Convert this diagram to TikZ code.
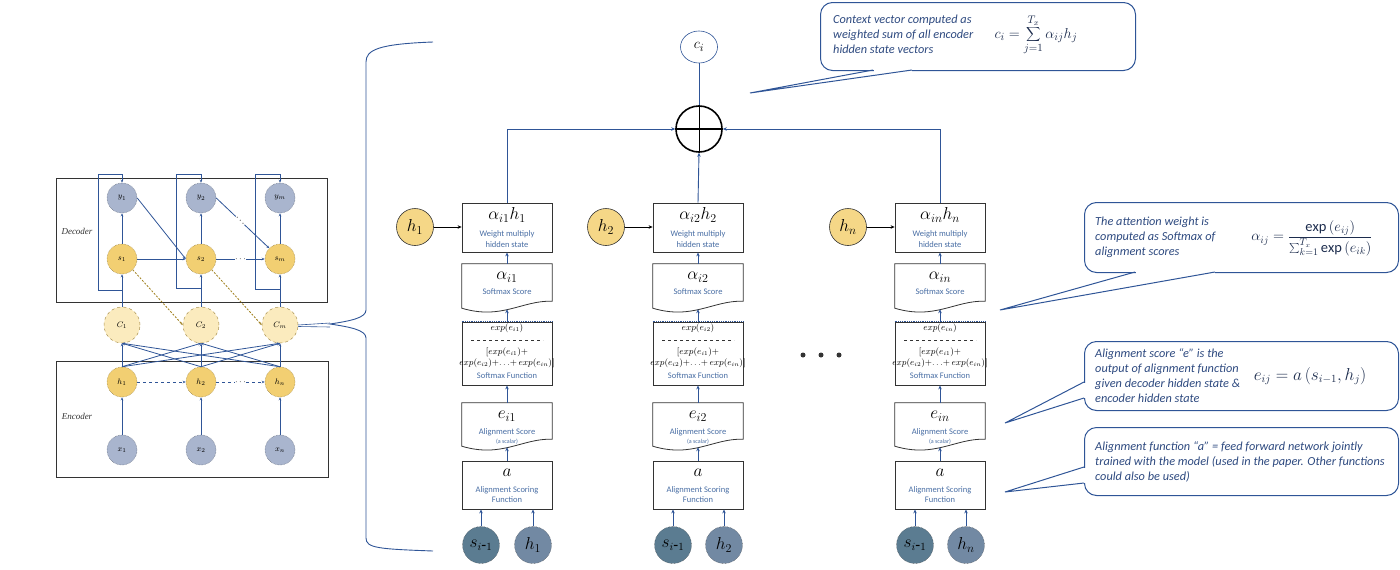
\documentclass[tikz,border=0pt]{standalone}
\usepackage{fontspec}
\setmainfont{Carlito}
\newfontfamily\serifit{Liberation Serif}
\usetikzlibrary{shapes.geometric,arrows.meta,calc}
\definecolor{lineblue}{HTML}{2F5597}
\definecolor{txtblue}{HTML}{4A6FA5}
\definecolor{callblue}{HTML}{2E4A80}
\definecolor{boxgray}{HTML}{333333}
\definecolor{yel}{HTML}{F5D787}
\definecolor{myel}{HTML}{F2CF72}
\definecolor{cyel}{HTML}{FBEBBE}
\definecolor{gblue}{HTML}{A9B5CE}
\definecolor{slate}{HTML}{5B7C91}
\definecolor{hslate}{HTML}{7289A3}
\definecolor{dashy}{HTML}{A0801E}
\newcommand\docshape[1]{\draw[draw=boxgray,fill=white,line width=0.8pt] (#1.north west) -- (#1.north east) -- ($(#1.south east)+(0,-11)$) .. controls ($(#1.south east)+(-30,-12)$) and ($(#1.south west)+(40,8)$) .. ($(#1.south west)+(0,-4)$) -- cycle;}
\begin{document}
\begin{tikzpicture}[x=1pt,y=-1pt,
 bl/.style={draw=lineblue,line width=0.9pt},
 tipa/.style={-{Stealth[length=4pt,width=3.5pt]}},
 plainbox/.style={draw=boxgray,fill=white,line width=0.8pt,minimum width=90pt,inner sep=0pt},
 docframe/.style={minimum width=90pt,inner sep=0pt},
 lab/.style={text=txtblue,font=\fontsize{8.5}{10.5}\selectfont,align=center,inner sep=0pt},
 mth/.style={font=\fontsize{18}{20}\selectfont,inner sep=0pt},
 expt/.style={font=\fontsize{9}{11}\selectfont,align=center,inner sep=0pt},
 ycirc/.style={circle,draw=boxgray,fill=yel,minimum size=37pt,inner sep=0pt,line width=0.6pt,font=\fontsize{17}{18}\selectfont},
 scirc/.style={circle,draw=boxgray,densely dotted,fill=slate,minimum size=37pt,inner sep=0pt,font=\fontsize{16}{17}\selectfont},
 hcirc/.style={circle,draw=boxgray,densely dotted,fill=hslate,minimum size=37pt,inner sep=0pt,font=\fontsize{17}{18}\selectfont},
 callbox/.style={draw=lineblue,line width=1pt,rounded corners=12pt,fill=white,inner sep=0pt},
 calltxt/.style={text=callblue,font=\fontsize{12.3}{15}\selectfont\itshape,align=left,inner sep=0pt,anchor=west},
 callmath/.style={text=callblue!60!black,inner sep=0pt},
 mc/.style={circle,minimum size=30pt,inner sep=0pt,font=\fontsize{8.5}{9}\selectfont,densely dotted,line width=0.5pt},
 mg/.style={mc,fill=gblue,draw=gblue!60!black},
 my/.style={mc,fill=myel,draw=myel!60!black},
 mcc/.style={mc,minimum size=36pt,fill=cyel,draw=myel!70!black,dashed},
 ml/.style={draw=lineblue,line width=0.8pt},
 mt/.style={-{Stealth[length=3pt,width=2.5pt]}},
 md/.style={draw=dashy,line width=0.8pt,dash pattern=on 2pt off 1.5pt},
 mdots/.style={fill=white,inner sep=0.5pt,font=\bfseries\fontsize{9}{9}\selectfont},
]
\useasboundingbox (0,0) rectangle (1400,570);

% ---------------- left encoder-decoder sketch ----------------
\draw[draw=boxgray,line width=0.8pt] (56,178) rectangle (327,302);
\draw[draw=boxgray,line width=0.8pt] (56,361) rectangle (328,477);
\node[font=\serifit\itshape\fontsize{9}{9}\selectfont,text=boxgray] (dec) at (77,231) {Decoder};
\node[font=\serifit\itshape\fontsize{9}{9}\selectfont,text=boxgray] (enc) at (77,416) {Encoder};

\coordinate (La1) at (122,290);
\coordinate (La2) at (201,288);
\coordinate (La3) at (280,289);

\foreach \c/\x/\a/\b in {1/122/1/1,2/201/2/2,3/280/m/n}{
  \node[mg] (Ly\c) at (\x,198) {$y_{\a}$};
  \node[my] (Ls\c) at (\x,259) {$s_{\a}$};
  \node[mcc] (Lc\c) at (\x,325) {$C_{\a}$};
  \node[my] (Lh\c) at (\x,382) {$h_{\b}$};
  \node[mg] (Lx\c) at (\x,450) {$x_{\b}$};
  \draw[ml,mt] (Ls\c) -- (Ly\c);
  \draw[ml,mt] (Lc\c) -- (Ls\c);
  \draw[ml,mt] (Lx\c) -- (Lh\c);
}
\draw[ml,mt] (La1) -| (98,174) -| (Ly1.north);
\draw[ml,mt] (La2) -| (176,174) -| (Ly2.north);
\draw[ml,mt] (La3) -| (255,174) -| (Ly3.north);

\foreach \a in {1,2,3}{\foreach \b in {1,2,3}{\draw[ml,mt] (Lh\a.north) -- (Lc\b.south);}}

\draw[ml,mt] (Ls1) -- (Ls2);
\draw[ml,mt] (Ls2) -- node[mdots]{$\cdots$} (Ls3);
\draw[ml,mt,dashed] (Lh1) -- (Lh2);
\draw[ml,mt,dashed] (Lh2) -- node[mdots]{$\cdots$} (Lh3);
\draw[ml,mt] (Ly1.east) -- (Ls2.west);
\draw[ml,mt] (Ly2.east) -- node[mdots,sloped,pos=0.45]{$\cdots$} (Ls3.north west);
\draw[md,mt] (Ls1.south east) -- (Lc2.west);
\draw[md,mt] (Ls2.south east) -- (Lc3.west);

% brace
\coordinate (btip) at (330,324);
\draw[bl] (433,42) .. controls (378,44) and (366,50) .. (366,62) -- (366,310)
  .. controls (366,318) and (350,321) .. (btip)
  .. controls (350,327) and (366,330) .. (366,338) -- (366,538)
  .. controls (366,548) and (378,549) .. (433,551);
\draw[lineblue,line width=0.6pt] (Lc3.east) -- ([yshift=1pt]btip);
\draw[lineblue,line width=0.6pt] ([yshift=-1.5pt]Lc3.east) -- ([yshift=-3pt]btip);

% ---------------- attention columns ----------------
\foreach \cx/\k/\hx/\sx/\hhx/\nm in {507/1/415/481/533/1,698/2/606/673/724/2,940/n/848/915/966/3}{
  \node[plainbox,minimum height=49pt] (wm\nm) at (\cx,227.5) {};
  \node[docframe,minimum height=48pt] (sm\nm) at (\cx,288) {};
  \docshape{sm\nm}
  \node[plainbox,minimum height=63pt] (sf\nm) at (\cx,353.5) {};
  \draw[densely dotted,lineblue,line width=0.8pt] (sf\nm.north west) -- (sf\nm.north east);
  \node[docframe,minimum height=47pt] (as\nm) at (\cx,426.5) {};
  \docshape{as\nm}
  \node[plainbox,minimum height=48pt] (af\nm) at (\cx,485) {};

  \node[mth] (wmt\nm) at (\cx,215) {$\alpha_{i\k}h_{\k}$};
  \node[lab] (wml\nm) at (\cx,239) {Weight multiply\\hidden state};
  \node[mth] (smt\nm) at (\cx,277) {$\alpha_{i\k}$};
  \node[lab] (sml\nm) at (\cx,292) {Softmax Score};
  \node[expt] (sft\nm) at (\cx,328) {$exp(e_{i\k})$};
  \draw[dashed,boxgray,line width=0.5pt] (\cx-36,340) -- (\cx+36,340);
  \node[expt] (sfb\nm) at (\cx,357.5) {$[exp(e_{i1}){+}$\\$exp(e_{i2}){+}{\ldots}{+}\,exp(e_{in})]$};
  \node[lab] (sfl\nm) at (\cx,376) {Softmax Function};
  \node[mth] (ast\nm) at (\cx,416) {$e_{i\k}$};
  \node[lab] (asl\nm) at (\cx,432) {Alignment Score};
  \node[lab,font=\fontsize{6}{7}\selectfont] (asl2\nm) at (\cx,442) {(a scalar)};
  \node[mth] (aft\nm) at (\cx,473) {$a$};
  \node[lab] (afl\nm) at (\cx,494.5) {Alignment Scoring\\Function};

  \node[ycirc] (yh\nm) at (\hx,227) {$h_{\k}$};
  \draw[black,line width=0.6pt,tipa] (yh\nm.east) -- (yh\nm.east -| wm\nm.west);
  \node[scirc] (bs\nm) at (\sx,545) {$s_{i\mbox{-}1}$};
  \node[hcirc] (bh\nm) at (\hhx,545) {$h_{\k}$};
  \draw[bl,tipa] (bs\nm.north) -- (bs\nm.north |- af\nm.south);
  \draw[bl,tipa] (bh\nm.north) -- (bh\nm.north |- af\nm.south);

  \draw[bl,tipa] (af\nm.north) -- ([yshift=3pt]as\nm.south);
  \draw[bl,tipa] (as\nm.north) -- (sf\nm.south);
  \draw[bl,tipa] (sf\nm.north) -- ([yshift=3pt]sm\nm.south);
  \draw[bl,tipa] (sm\nm.north) -- (wm\nm.south);
}

% dots between columns
\fill[boxgray] (803,355) circle (2.5) (821,355) circle (2.5) (839,355) circle (2.5);

% sum node and context vector
\node[circle,draw=black,line width=1.6pt,minimum size=46pt,fill=white] (plus) at (699,129) {};
\draw[black,line width=1.6pt] (plus.west) -- (plus.east);
\draw[black,line width=0.8pt] (plus.north) -- (plus.south);
\node[ellipse,draw=lineblue,line width=0.6pt,minimum width=37pt,minimum height=32pt,inner sep=0pt,font=\fontsize{15}{16}\selectfont] (ci) at (699,47) {$c_i$};
\draw[bl] (plus.north) -- (ci.south);
\draw[bl,tipa] (wm1.north) |- (plus.west);
\draw[bl,tipa] (wm3.north) |- (plus.east);
\draw[bl,tipa] (wm2.north) -- (plus.south);

% ---------------- callouts ----------------
\node[callbox,minimum width=315pt,minimum height=68pt,anchor=north west] (cb1) at (820,2) {};
\fill[white] (873.5,68) rectangle (911.5,72);
\draw[lineblue,line width=1pt] (873,70) -- (750,93) -- (912,70);
\node[calltxt] (ct1) at (833,34) {Context vector computed as\\weighted sum of all encoder\\hidden state vectors};
\node[callmath,font=\fontsize{15.5}{17}\selectfont] (cf1) at (1036,35) {$\displaystyle c_i = \sum_{j=1}^{T_x} \alpha_{ij} h_j$};

\node[callbox,minimum width=314pt,minimum height=70pt,anchor=north west] (cb2) at (1084,202) {};
\fill[white] (1135.5,270) rectangle (1214.5,274);
\draw[lineblue,line width=1pt] (1135,272) -- (1000,310) -- (1215,272);
\node[calltxt] (ct2) at (1095,237) {The attention weight is\\computed as Softmax of\\alignment scores};
\node[callmath,font=\fontsize{14.5}{16}\selectfont] (cf2) at (1312,238) {$\displaystyle \alpha_{ij} = \frac{\exp\left(e_{ij}\right)}{\sum_{k=1}^{T_x}\exp\left(e_{ik}\right)}$};

\node[callbox,minimum width=314pt,minimum height=69pt,anchor=north west] (cb3) at (1084,341) {};
\fill[white] (1082,382.5) rectangle (1086,397.5);
\draw[lineblue,line width=1pt] (1084,382) -- (1005,423) -- (1084,398);
\node[calltxt] (ct3) at (1095,375.5) {Alignment score ``e'' is the\\output of alignment function\\given decoder hidden state \&\\encoder hidden state};
\node[callmath,font=\fontsize{16}{18}\selectfont] (cf3) at (1310,376) {$e_{ij} = a\left(s_{i-1}, h_j\right)$};

\node[callbox,minimum width=314pt,minimum height=68pt,anchor=north west] (cb4) at (1084,427) {};
\fill[white] (1082,467.5) rectangle (1086,482.5);
\draw[lineblue,line width=1pt] (1084,467) -- (1005,492) -- (1084,483);
\node[calltxt] (ct4) at (1095,461.5) {Alignment function ``a'' = feed forward network jointly\\trained with the model (used in the paper. Other functions\\could also be used)};
\end{tikzpicture}
\end{document}
